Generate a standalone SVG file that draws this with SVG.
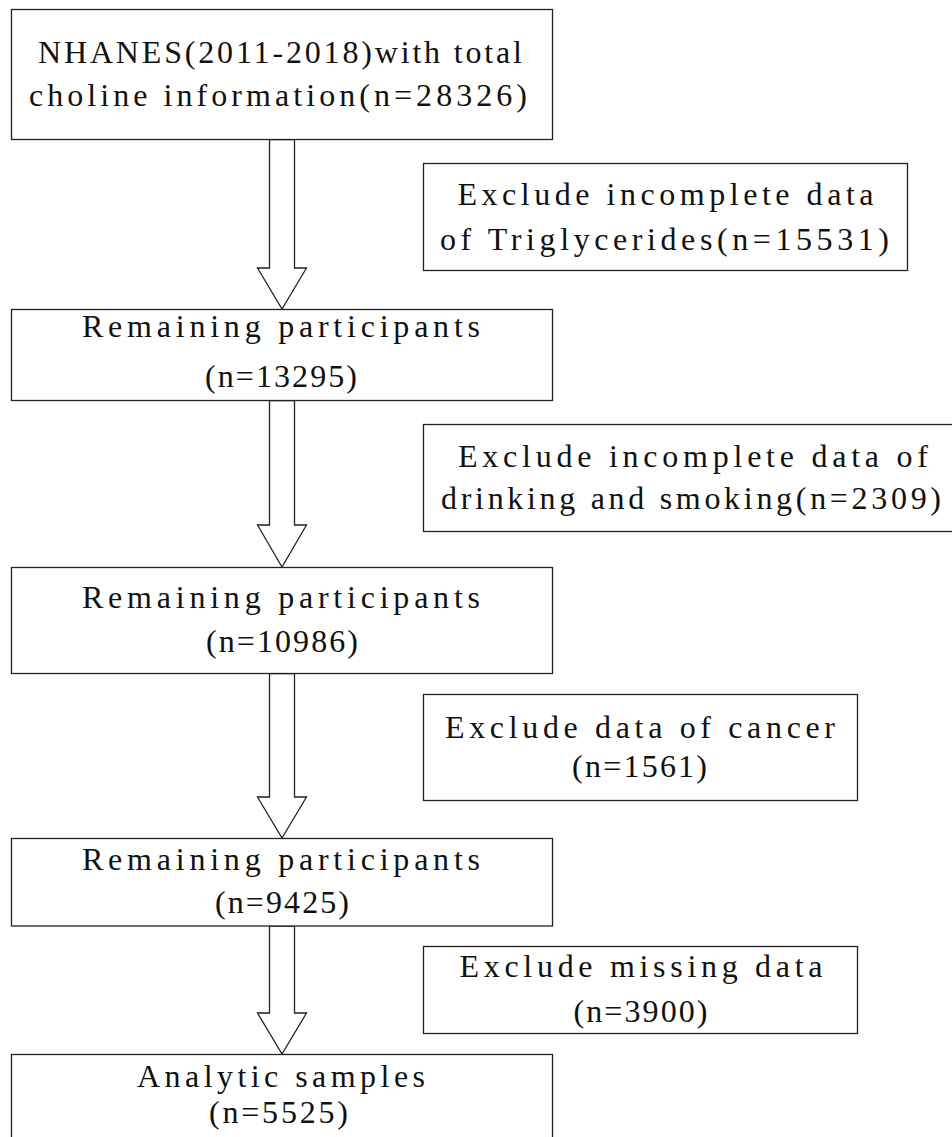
<svg xmlns="http://www.w3.org/2000/svg" width="952" height="1137" viewBox="0 0 952 1137">
  <style>
    .box { fill: #ffffff; stroke: #222222; stroke-width: 1.3; }
    .arrow { fill: #ffffff; stroke: #222222; stroke-width: 1.3; stroke-linejoin: miter; }
    .t { font-family: "Liberation Serif", "DejaVu Serif", serif; font-size: 32px; fill: #111111; text-anchor: middle; }
  </style>
  <rect x="0" y="0" width="952" height="1137" fill="#ffffff"/>

  <g id="connectors">
    <polygon class="arrow" points="269.5,139.5 269.5,268 257.5,268 282,309 306.5,268 294.5,268 294.5,139.5"/>
    <polygon class="arrow" points="269.5,400.5 269.5,525 257.5,525 282,567 306.5,525 294.5,525 294.5,400.5"/>
    <polygon class="arrow" points="269.5,673.5 269.5,797 257.5,797 282,838 306.5,797 294.5,797 294.5,673.5"/>
    <polygon class="arrow" points="269.5,926 269.5,1013 257.5,1013 282,1054 306.5,1013 294.5,1013 294.5,926"/>
  </g>

  <g id="node-start">
    <rect class="box" x="11.5" y="9.5" width="541" height="130"/>
    <text class="t" x="280" y="63" textLength="484" lengthAdjust="spacing">NHANES(2011-2018)with total</text>
    <text class="t" x="278" y="106" textLength="498" lengthAdjust="spacing">choline information(n=28326)</text>
  </g>

  <g id="node-exclude-1">
    <rect class="box" x="423.5" y="163.5" width="484" height="107"/>
    <text class="t" x="665.5" y="205" textLength="416" lengthAdjust="spacing">Exclude incomplete data</text>
    <text class="t" x="664.5" y="250" textLength="449" lengthAdjust="spacing">of Triglycerides(n=15531)</text>
  </g>

  <g id="node-remaining-1">
    <rect class="box" x="11.5" y="309.5" width="541" height="91"/>
    <text class="t" x="281" y="337" textLength="398" lengthAdjust="spacing">Remaining participants</text>
    <text class="t" x="281" y="387" textLength="152" lengthAdjust="spacing">(n=13295)</text>
  </g>

  <g id="node-exclude-2">
    <rect class="box" x="423.5" y="424.5" width="537" height="107"/>
    <text class="t" x="693" y="467" textLength="470" lengthAdjust="spacing">Exclude incomplete data of</text>
    <text class="t" x="691" y="509" textLength="500" lengthAdjust="spacing">drinking and smoking(n=2309)</text>
  </g>

  <g id="node-remaining-2">
    <rect class="box" x="11.5" y="567.5" width="541" height="106"/>
    <text class="t" x="281" y="608" textLength="398" lengthAdjust="spacing">Remaining participants</text>
    <text class="t" x="282" y="652" textLength="152" lengthAdjust="spacing">(n=10986)</text>
  </g>

  <g id="node-exclude-3">
    <rect class="box" x="423.5" y="694.5" width="434" height="106"/>
    <text class="t" x="640" y="738" textLength="390" lengthAdjust="spacing">Exclude data of cancer</text>
    <text class="t" x="639.5" y="777" textLength="135" lengthAdjust="spacing">(n=1561)</text>
  </g>

  <g id="node-remaining-3">
    <rect class="box" x="11.5" y="838.5" width="541" height="87.5"/>
    <text class="t" x="281" y="870" textLength="398" lengthAdjust="spacing">Remaining participants</text>
    <text class="t" x="282" y="913" textLength="134" lengthAdjust="spacing">(n=9425)</text>
  </g>

  <g id="node-exclude-4">
    <rect class="box" x="423.5" y="946.5" width="434" height="87"/>
    <text class="t" x="641" y="977" textLength="363" lengthAdjust="spacing">Exclude missing data</text>
    <text class="t" x="640.5" y="1022" textLength="134" lengthAdjust="spacing">(n=3900)</text>
  </g>

  <g id="node-final">
    <rect class="box" x="11.5" y="1054.5" width="541" height="100"/>
    <text class="t" x="281" y="1087" textLength="288" lengthAdjust="spacing">Analytic samples</text>
    <text class="t" x="278.5" y="1123" textLength="139" lengthAdjust="spacing">(n=5525)</text>
  </g>
</svg>
